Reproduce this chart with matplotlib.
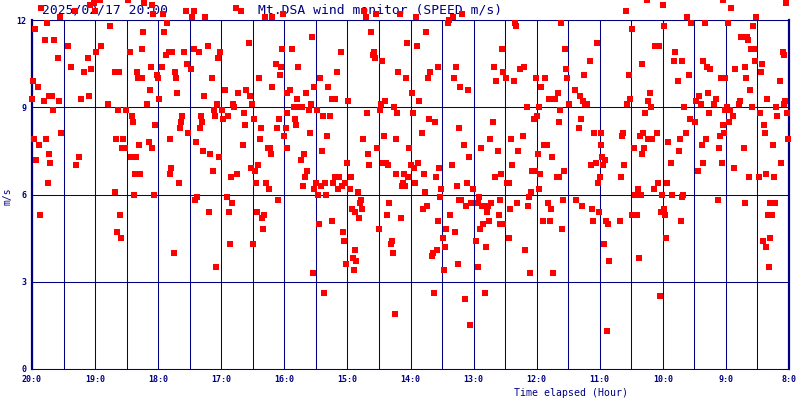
import numpy as np
import matplotlib
matplotlib.use('Agg')
import matplotlib.pyplot as plt

# wind speed samples, minutes elapsed from 20:00 (left edge) and speed in m/s
# 20:00 - 18:00
min_a = [9, 27, 41, 55, 59, 60, 65, 91, 107, 114, 115,
         14, 3, 12, 21, 34, 74, 106, 66, 61, 93, 105, 25, 53, 37, 49, 56, 79, 83, 100, 101, 105, 113, 119,
         1, 6, 112, 0, 11, 16, 19, 26, 47, 54, 72, 109, 20, 82, 89, 95, 96, 117, 28, 2, 13, 7, 80, 87, 86,
         88, 102, 111, 114, 16, 4, 17, 45, 42, 94, 99, 98, 103, 15, 79, 97, 116, 8, 84, 81, 85]
spd_a = [12.4, 12.1, 12.3, 12.5, 12.6, 12.3, 12.7, 12.7, 12.6, 12.5, 12.2,
         11.9, 11.7, 11.3, 11.3, 11.1, 11.8, 11.6, 11.1, 10.9, 10.9, 11.0, 10.7, 10.7, 10.4, 10.2, 10.3, 10.2, 10.2, 10.2, 10.0, 10.0, 10.4, 10.1,
         9.9, 9.7, 9.6, 9.3, 9.2, 9.4, 9.4, 9.2, 9.3, 9.4, 9.1, 9.1, 8.9, 8.9, 8.9, 8.7, 8.5, 8.4, 8.1, 7.9, 7.9, 7.7, 7.9, 7.9, 7.6,
         7.6, 7.7, 7.8, 7.6, 7.4, 7.2, 7.1, 7.3, 7.0, 7.3, 7.3, 6.7, 6.7, 6.4, 6.1, 6.0, 6.0, 5.3, 5.3, 4.7, 4.5]

# 18:00 - 16:00
min_b = [125, 146, 154, 152, 165, 194, 199, 222, 228, 239,
         128, 126, 127, 130, 133, 145, 154, 159, 167, 179, 177, 206, 238, 124, 136, 147, 151, 120, 137, 171,
         216, 232, 237, 236, 228, 184, 196, 204, 207, 164, 138, 121, 176, 191, 209, 173, 181, 192, 143, 161,
         174, 186, 202, 182, 142, 162, 141, 160, 203, 211, 218, 233, 235, 131, 148, 156, 201, 217, 240, 224,
         226, 163, 169, 178, 227, 132, 131, 172, 189, 195, 208, 212, 215, 140, 213, 223, 225, 155, 157, 185,
         190, 168, 187, 214, 221, 219, 234, 220, 135, 188, 210, 175]
spd_b = [12.2, 12.3, 12.3, 12.1, 12.1, 12.4, 12.3, 12.1, 12.1, 12.2,
         11.9, 11.6, 10.8, 10.9, 10.9, 10.9, 11.0, 10.9, 11.1, 10.9, 10.7, 11.2, 11.0, 10.4, 10.2, 10.5, 10.3, 10.0, 10.0, 10.0,
         10.0, 10.5, 10.4, 10.1, 9.7, 9.6, 9.5, 9.6, 9.4, 9.4, 9.5, 9.3, 9.1, 9.1, 9.1, 8.9, 8.9, 9.0, 8.7, 8.7,
         8.7, 8.7, 8.8, 8.6, 8.5, 8.5, 8.3, 8.3, 8.4, 8.6, 8.3, 8.3, 8.6, 7.9, 8.1, 7.8, 7.7, 7.9, 8.0, 7.6,
         7.6, 7.5, 7.4, 7.3, 7.4, 6.9, 6.7, 6.8, 6.6, 6.7, 6.9, 6.8, 7.0, 6.4, 6.4, 6.4, 6.2, 5.8, 5.9, 5.9,
         5.7, 5.4, 5.4, 5.4, 5.3, 5.2, 5.8, 4.8, 4.0, 4.3, 4.3, 3.5]

# 16:00 - 14:00
min_c = [316, 318, 327, 350,
         266, 247, 294, 322, 325, 324, 326, 333, 357, 253, 290, 274, 348, 356, 245, 243, 268, 282, 261, 252,
         285, 288, 301, 361, 336, 249, 255, 257, 265, 263, 271, 332, 331, 344, 319, 347, 362, 243, 250, 251,
         277, 283, 242, 264, 281, 315, 335, 346, 243, 328, 359, 276, 259, 256, 320, 300, 321, 334, 337, 339,
         360, 262, 260, 258, 346, 354, 358, 353, 352, 355, 270, 268, 275, 279, 288, 292, 286, 291, 295, 298,
         303, 302, 310, 272, 280, 313, 312, 340, 304, 307, 314, 311, 338, 351, 285, 273, 330, 296, 297, 342,
         341, 343, 307, 305, 308, 299, 306, 267, 278, 345]
spd_c = [12.3, 12.1, 12.2, 12.2,
         11.4, 11.0, 10.9, 11.6, 10.9, 10.8, 10.7, 10.6, 11.2, 10.4, 10.2, 10.0, 10.2, 10.0, 9.6, 9.5, 9.7, 9.7, 9.5, 9.3,
         9.3, 9.3, 9.2, 9.5, 9.2, 9.0, 9.0, 9.0, 9.1, 8.9, 8.9, 9.1, 8.9, 9.0, 8.8, 8.8, 8.8, 8.8, 8.6, 8.4,
         8.7, 8.7, 8.3, 8.1, 8.0, 7.9, 8.0, 7.9, 7.6, 7.6, 7.6, 7.5, 7.4, 7.2, 7.4, 7.1, 7.0, 7.1, 7.1, 7.0,
         7.0, 6.8, 6.6, 6.3, 6.7, 6.7, 6.6, 6.4, 6.3, 6.3, 6.4, 6.2, 6.3, 6.4, 6.6, 6.6, 6.4, 6.2, 6.3, 6.4,
         6.6, 6.2, 6.1, 6.0, 6.0, 5.8, 5.7, 5.7, 5.5, 5.4, 5.5, 5.2, 5.3, 5.2, 5.1, 5.0, 4.8, 4.7, 4.4, 4.4,
         4.3, 4.0, 4.1, 3.8, 3.7, 3.6, 3.4, 3.3, 2.6, 1.9]

# 14:00 - 12:00
min_d = [365, 400, 397, 396, 409,
         375, 366, 459, 460, 447, 379, 386, 377, 403, 401, 407, 415, 439, 448, 441, 451, 458, 464, 468, 479,
         484, 368, 471, 482, 480, 477, 378, 383, 406, 438, 371, 411, 427, 436, 443, 456, 462, 467, 481, 416,
         367, 363, 387, 399, 457, 373, 384, 364, 404, 414, 419, 440, 446, 452, 454, 476, 478, 483, 482, 475,
         374, 389, 388, 406, 408, 425, 418, 413, 424, 428, 434, 437, 445, 433, 461, 455, 473, 472, 376, 372,
         386, 398, 435, 429, 444, 445, 448, 394, 402, 426, 391, 454, 422, 393, 385, 381, 380, 432, 469, 405,
         424, 392, 474, 382, 412, 431, 417]
spd_d = [12.1, 12.1, 12.0, 11.9, 12.2,
         11.6, 11.1, 11.9, 11.8, 11.0, 10.2, 10.4, 10.0, 10.4, 10.0, 9.7, 9.6, 10.4, 10.2, 9.9, 10.0, 9.9, 10.3, 10.4, 10.0,
         9.7, 9.2, 9.0, 9.0, 8.7, 8.6, 8.6, 8.5, 8.3, 8.5, 8.1, 7.7, 7.6, 7.9, 7.5, 7.9, 7.5, 8.0, 7.4, 7.3,
         7.1, 6.9, 6.9, 7.0, 7.0, 6.7, 6.6, 6.4, 6.3, 6.4, 6.2, 6.6, 6.7, 6.4, 6.4, 6.8, 6.8, 6.7, 6.2, 6.1,
         6.1, 6.2, 5.9, 5.8, 5.8, 5.9, 5.7, 5.6, 5.7, 5.6, 5.6, 5.7, 5.8, 5.4, 5.7, 5.5, 5.9, 5.6, 5.6, 5.5,
         5.1, 5.3, 5.1, 5.0, 5.3, 5.0, 5.0, 4.8, 4.7, 4.8, 4.5, 4.5, 4.4, 4.2, 4.1, 4.0, 3.9, 4.2, 4.1, 3.6,
         3.5, 3.4, 3.3, 2.6, 2.4, 2.6, 1.5]

# 12:00 - 10:00
min_e = [585, 600, 565,
         503, 571, 601, 537, 507, 593, 596, 531, 580, 508, 488, 509, 525, 568, 500, 516, 521, 588, 492, 497,
         524, 526, 528, 511, 569, 566, 586, 589, 502, 583, 522, 501, 520, 535, 541, 562, 561, 578, 581, 594,
         586, 590, 605, 487, 490, 541, 573, 582, 580, 495, 542, 545, 536, 532, 543, 563, 506, 499, 501, 540,
         560, 538, 595, 604, 576, 592, 574, 579, 599, 505, 517, 491, 523, 494, 533, 539, 571, 575, 598, 601,
         602, 486, 493, 534, 546, 548, 559, 504, 603, 544, 549, 577, 496, 597, 547]
spd_e = [12.7, 12.5, 12.3,
         11.9, 11.7, 11.8, 11.2, 11.0, 11.1, 11.1, 10.6, 10.5, 10.3, 10.0, 10.0, 10.1, 10.1, 9.5, 9.6, 9.4, 9.5, 9.3, 9.3,
         9.2, 9.1, 9.1, 9.1, 9.3, 9.1, 9.2, 9.0, 8.9, 8.8, 8.6, 8.5, 8.3, 8.1, 8.1, 8.1, 8.0, 8.0, 8.1, 8.1,
         7.9, 7.9, 7.8, 7.7, 7.7, 7.7, 7.6, 7.6, 7.4, 7.3, 7.3, 7.2, 7.1, 7.0, 7.0, 7.0, 6.8, 6.6, 6.6, 6.6,
         6.6, 6.4, 6.4, 6.4, 6.2, 6.2, 6.0, 6.0, 6.0, 5.8, 5.8, 5.7, 5.6, 5.5, 5.5, 5.4, 5.3, 5.3, 5.4, 5.5,
         5.3, 5.1, 5.1, 5.1, 5.1, 5.0, 5.1, 4.8, 4.5, 4.3, 3.7, 3.8, 3.3, 2.5, 1.3]

# 10:00 - 8:00
min_f = [657, 665, 717, 623, 689,
         627, 640, 662, 686, 674, 680, 681, 684, 687, 714, 715, 612, 611, 618, 638, 642, 645, 669, 678, 688,
         694, 693, 625, 614, 655, 659, 679, 711, 683, 634, 643, 651, 699, 716, 715, 632, 636, 649, 673, 672,
         620, 661, 659, 664, 685, 708, 692, 709, 718, 644, 626, 631, 667, 663, 657, 696, 622, 658, 697, 616,
         641, 654, 637, 653, 677, 705, 719, 615, 608, 638, 656, 712, 633, 668, 682, 691, 698, 706, 609, 619,
         618, 652, 678, 702, 707, 700, 704, 617, 695, 702, 698, 701]
spd_f = [12.7, 12.4, 12.6, 12.1, 12.1,
         11.9, 11.9, 11.9, 11.8, 11.4, 11.4, 11.3, 11.0, 11.0, 10.9, 10.8, 10.9, 10.6, 10.6, 10.6, 10.4, 10.3, 10.3, 10.4, 10.6,
         10.5, 10.2, 10.1, 9.9, 10.0, 10.0, 10.0, 9.9, 9.6, 9.4, 9.5, 9.3, 9.3, 9.2, 9.1, 9.2, 9.1, 9.1, 9.2, 9.1,
         9.0, 9.0, 8.9, 8.9, 9.0, 9.0, 8.8, 8.7, 8.8, 8.8, 8.6, 8.5, 8.7, 8.5, 8.4, 8.4, 8.1, 8.1, 8.1, 7.9,
         7.9, 8.0, 7.7, 7.6, 7.6, 7.7, 7.9, 7.5, 7.1, 7.1, 7.1, 7.1, 6.8, 6.9, 6.6, 6.6, 6.7, 6.6, 6.0, 6.0,
         5.9, 5.8, 5.7, 5.7, 5.7, 5.3, 5.3, 5.1, 4.4, 4.5, 4.2, 3.5]

hour_labels = ['20:0', '19:0', '18:0', '17:0', '16:0', '15:0', '14:0',
               '13:0', '12:0', '11:0', '10:0', '9:0', '8:0']
y_ticks = [0, 3, 6, 9, 12]

NAVY = '#000080'
MONO = 'DejaVu Sans Mono'

minutes = np.concatenate([min_a, min_b, min_c, min_d, min_e, min_f])
speed = np.concatenate([spd_a, spd_b, spd_c, spd_d, spd_e, spd_f])
hours = minutes / 60.0

fig = plt.figure(figsize=(8, 4), dpi=100, facecolor='white')
ax = fig.add_axes([0.04, 0.0775, 0.94625, 0.8725])
ax.set_xlim(0, 12)
ax.set_ylim(0, 12)

#------------------------- grid -----------------------------#
ax.set_xticks(np.arange(0, 13, 1))
ax.set_xticklabels(hour_labels)
ax.set_xticks(np.arange(0.5, 12, 1), minor=True)
ax.set_yticks(y_ticks)
ax.grid(True, which='both', axis='x', color=NAVY, lw=0.75, zorder=1)
ax.grid(True, which='major', axis='y', color=NAVY, lw=0.75, zorder=1)
ax.set_axisbelow(True)
ax.tick_params(which='both', length=0, colors=NAVY, labelsize=6)
ax.tick_params(axis='x', pad=4)
ax.tick_params(axis='y', pad=4)
for lab in ax.get_xticklabels() + ax.get_yticklabels():
    lab.set_fontfamily(MONO)
    lab.set_fontweight('bold')
for side in ['left', 'right']:
    ax.spines[side].set_color(NAVY)
    ax.spines[side].set_linewidth(1.6)
for side in ['top', 'bottom']:
    ax.spines[side].set_color(NAVY)
    ax.spines[side].set_linewidth(0.75)

#------------------------- texts (under the points) -----------------------------#
ax.text(42 / 800, 1 - 13.5 / 400, '2025/02/17 20:00', transform=fig.transFigure,
        ha='left', va='baseline', fontsize=9.4, family=MONO, color=NAVY, zorder=2)
ax.text(258 / 800, 1 - 13.5 / 400, 'Mt.DSA wind monitor (SPEED m/s)', transform=fig.transFigure,
        ha='left', va='baseline', fontsize=9.4, family=MONO, color=NAVY, zorder=2)
ax.text(514 / 800, 1 - 396.5 / 400, 'Time elapsed (Hour)', transform=fig.transFigure,
        ha='left', va='baseline', fontsize=7.1, family=MONO, color=NAVY, zorder=2)
ax.text(7.5 / 800, 1 - 196 / 400, 'm/s', transform=fig.transFigure, rotation=90,
        ha='center', va='center', fontsize=7, family=MONO, color=NAVY, zorder=2)

#------------------------- points -----------------------------#
ax.scatter(hours, speed, marker='s', s=13, c='#ff0000', linewidths=0,
           clip_on=False, zorder=5, antialiased=False)

fig.savefig('out.png', dpi=100, facecolor='white')
